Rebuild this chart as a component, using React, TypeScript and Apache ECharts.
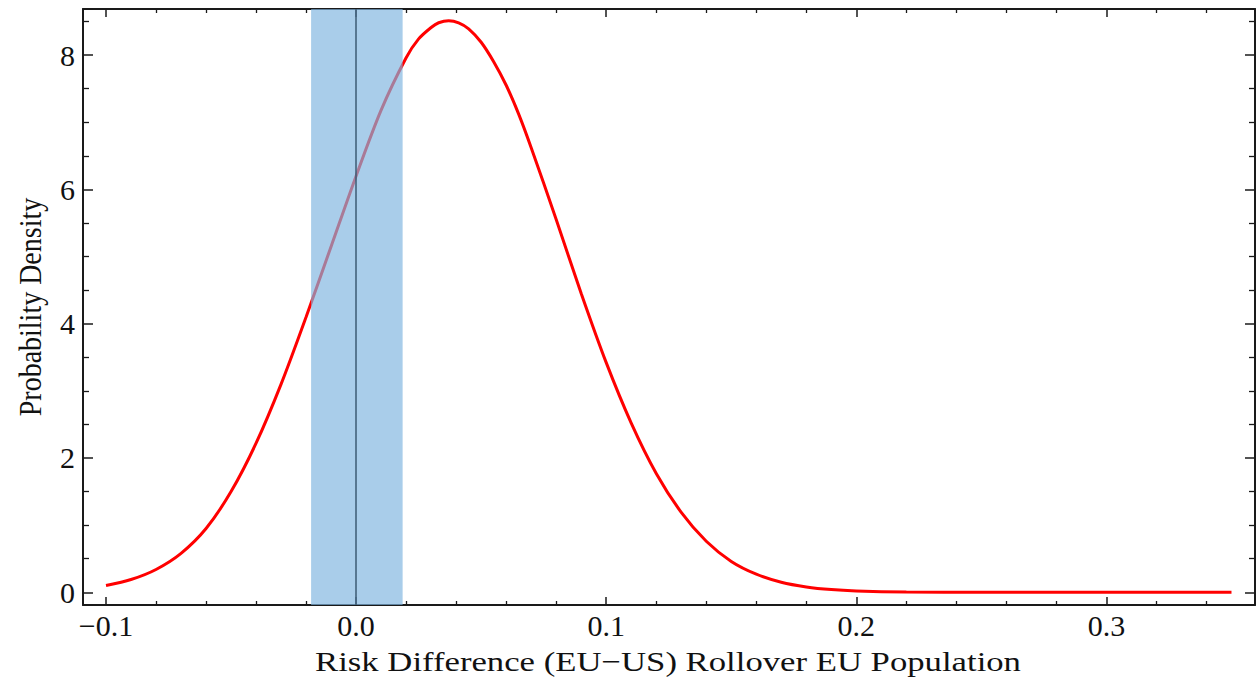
import React, { useEffect, useRef } from "react";
import * as echarts from "echarts";

// Risk difference values (x) and posterior probability density (y)
const riskDiff = [
  -0.1, -0.09, -0.08, -0.07, -0.06, -0.05, -0.04, -0.03, -0.02, -0.01, 0.0, 0.01,
  0.02, 0.025, 0.03, 0.033, 0.037, 0.041, 0.045, 0.05, 0.055, 0.06, 0.065, 0.07,
  0.08, 0.09, 0.1, 0.11, 0.12, 0.13, 0.14, 0.15, 0.16, 0.17, 0.18, 0.19, 0.2, 0.22,
  0.25, 0.3, 0.35,
];
const density = [
  0.1, 0.19, 0.34, 0.58, 0.95, 1.5, 2.22, 3.1, 4.1, 5.15, 6.2, 7.18, 7.96, 8.24,
  8.41, 8.48, 8.51, 8.48, 8.39, 8.19, 7.9, 7.55, 7.12, 6.62, 5.55, 4.45, 3.42, 2.52,
  1.77, 1.19, 0.76, 0.46, 0.27, 0.15, 0.08, 0.04, 0.02, 0.004, 0.0, 0.0, 0.0,
];

// Shaded region of practical equivalence and reference line
const bandRange = [-0.018, 0.0186];
const refLine = 0;

// Axis ranges
const xRange = [-0.1092, 0.3594];
const yRange = [-0.189, 8.685];

const xTitle = "Risk Difference (EU\u2212US) Rollover EU Population";
const yTitle = "Probability Density";

const SERIF = "'Liberation Serif', 'Times New Roman', serif";
const AXIS_COLOR = "#1a1a1a";

export default function App() {
  const ref = useRef<HTMLDivElement>(null);

  useEffect(() => {
    if (!ref.current) return;
    const chart = echarts.init(ref.current, undefined, { renderer: "svg" });

    const fmt = (v: number) => {
      if (Math.abs(v) < 1e-9) return "0.0";
      const s = v.toFixed(1);
      return v < 0 ? "\u2212" + s.slice(1) : s;
    };

    const baseX = {
      type: "value",
      min: xRange[0],
      max: xRange[1],
      splitNumber: 5,
      axisLine: { show: true, onZero: false, lineStyle: { color: AXIS_COLOR, width: 2 } },
      axisTick: { show: true, inside: true, length: 8, lineStyle: { color: AXIS_COLOR, width: 1.5 } },
      minorTick: { show: true, splitNumber: 5, length: 4, lineStyle: { color: AXIS_COLOR, width: 1.3 } },
      splitLine: { show: false },
      minorSplitLine: { show: false },
    };
    const baseY = {
      type: "value",
      min: yRange[0],
      max: yRange[1],
      splitNumber: 5,
      axisLine: { show: true, onZero: false, lineStyle: { color: AXIS_COLOR, width: 2 } },
      axisTick: { show: true, inside: true, length: 10, lineStyle: { color: AXIS_COLOR, width: 1.5 } },
      minorTick: { show: true, splitNumber: 4, length: 6, lineStyle: { color: AXIS_COLOR, width: 1.3 } },
      splitLine: { show: false },
      minorSplitLine: { show: false },
    };

    chart.setOption({
      animation: false,
      backgroundColor: "#ffffff",
      grid: { left: 83, right: 2, top: 9, bottom: 77, containLabel: false },
      xAxis: [
        {
          ...baseX,
          position: "bottom",
          axisLabel: {
            show: true,
            showMinLabel: false,
            showMaxLabel: false,
            margin: 5,
            color: "#111111",
            fontFamily: SERIF,
            fontSize: 30,
            formatter: fmt,
          },
        },
        { ...baseX, position: "top", axisLabel: { show: false } },
      ],
      yAxis: [
        {
          ...baseY,
          position: "left",
          axisLabel: {
            show: true,
            showMinLabel: false,
            showMaxLabel: false,
            margin: 8,
            color: "#111111",
            fontFamily: SERIF,
            fontSize: 30,
            formatter: (v: number) => String(Math.round(v)),
          },
        },
        { ...baseY, position: "right", axisLabel: { show: false } },
      ],
      series: [
        {
          type: "line",
          xAxisIndex: 0,
          yAxisIndex: 0,
          data: riskDiff.map((x, i) => [x, density[i]]),
          smooth: 0.3,
          showSymbol: false,
          symbol: "none",
          lineStyle: { color: "#ff0000", width: 3 },
          z: 2,
        },
        {
          type: "line",
          xAxisIndex: 0,
          yAxisIndex: 0,
          data: [],
          z: 6,
          silent: true,
          markArea: {
            silent: true,
            z: 6,
            itemStyle: { color: "rgba(128,181,224,0.675)" },
            data: [[{ xAxis: bandRange[0] }, { xAxis: bandRange[1] }]],
          },
          markLine: {
            silent: true,
            z: 7,
            symbol: ["none", "none"],
            label: { show: false },
            lineStyle: { color: "#3d5a73", width: 1.5, type: "solid" },
            data: [{ xAxis: refLine }],
          },
        },
      ],
      graphic: [
        {
          type: "text",
          x: 668,
          y: 662,
          scaleX: 1.24,
          style: {
            text: xTitle,
            fill: "#111111",
            font: `28px ${SERIF}`,
            align: "center",
            verticalAlign: "middle",
          },
        },
        {
          type: "text",
          x: 30,
          y: 307,
          rotation: Math.PI / 2,
          scaleY: 1.15,
          style: {
            text: yTitle,
            fill: "#111111",
            font: `28px ${SERIF}`,
            align: "center",
            verticalAlign: "middle",
          },
        },
      ],
    });

    return () => chart.dispose();
  }, []);

  return (
    <div
      ref={ref}
      style={{ position: "fixed", left: 0, top: 0, width: 1257, height: 682, background: "#fff" }}
    />
  );
}
